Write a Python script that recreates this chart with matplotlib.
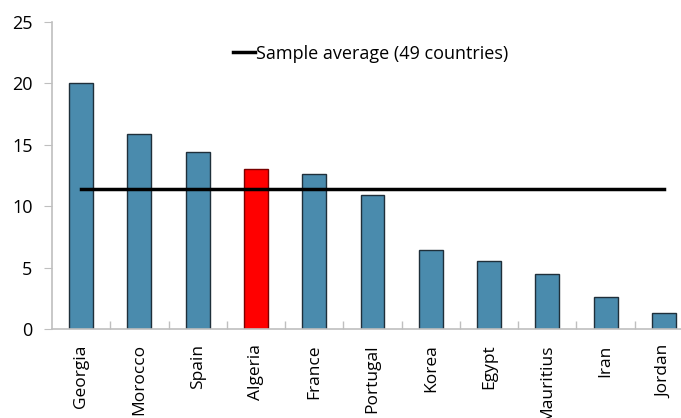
import numpy as np
import matplotlib
matplotlib.use('Agg')
import matplotlib.pyplot as plt

# Data
countries = ['Georgia', 'Morocco', 'Spain', 'Algeria', 'France', 'Portugal',
             'Korea', 'Egypt', 'Mauritius', 'Iran', 'Jordan']
values = [20.0, 15.9, 14.4, 13.0, 12.6, 10.9, 6.4, 5.5, 4.5, 2.6, 1.3]
sample_average = 11.4
highlight = 'Algeria'

plt.rcParams['font.family'] = ['Open Sans', 'DejaVu Sans']

fig = plt.figure(figsize=(6.81, 4.18), dpi=100)
ax = fig.add_axes([52 / 681, 1 - 329 / 418, 641 / 681, 307 / 418])

x = np.arange(len(countries))
colors = ['#ff0000' if c == highlight else '#4a8bad' for c in countries]
edges = ['#7a0000' if c == highlight else '#1f2f3a' for c in countries]
ax.bar(x, values, width=0.41, color=colors, edgecolor=edges, linewidth=1.0, zorder=2)

ax.plot([x[0], x[-1]], [sample_average, sample_average], color='black', lw=2.5,
        label='Sample average (49 countries)', zorder=3)

ax.set_xlim(-0.5, len(countries) - 0.5)
ax.set_ylim(0, 25)
ax.set_yticks(range(0, 26, 5))

ax.set_xticks(x)
ax.set_xticklabels(countries, rotation=90, fontsize=12.5)
ax.tick_params(axis='x', which='major', length=0, pad=11)
ax.set_xticks(np.arange(0.5, len(countries) - 0.5), minor=True)
ax.tick_params(axis='x', which='minor', direction='in', length=6, color='#bfbfbf', width=1)
ax.tick_params(axis='y', direction='out', length=6, color='#bfbfbf', labelsize=13, pad=8)

for s in ['top', 'right']:
    ax.spines[s].set_visible(False)
for s in ['left', 'bottom']:
    ax.spines[s].set_color('#bfbfbf')
    ax.spines[s].set_linewidth(1.2)

ax.legend(loc='center left', bbox_to_anchor=(172 / 641, 0.897), frameon=False,
          fontsize=13, handlelength=1.2, handletextpad=0.1, borderpad=0)

plt.savefig('out.png', dpi=100)
